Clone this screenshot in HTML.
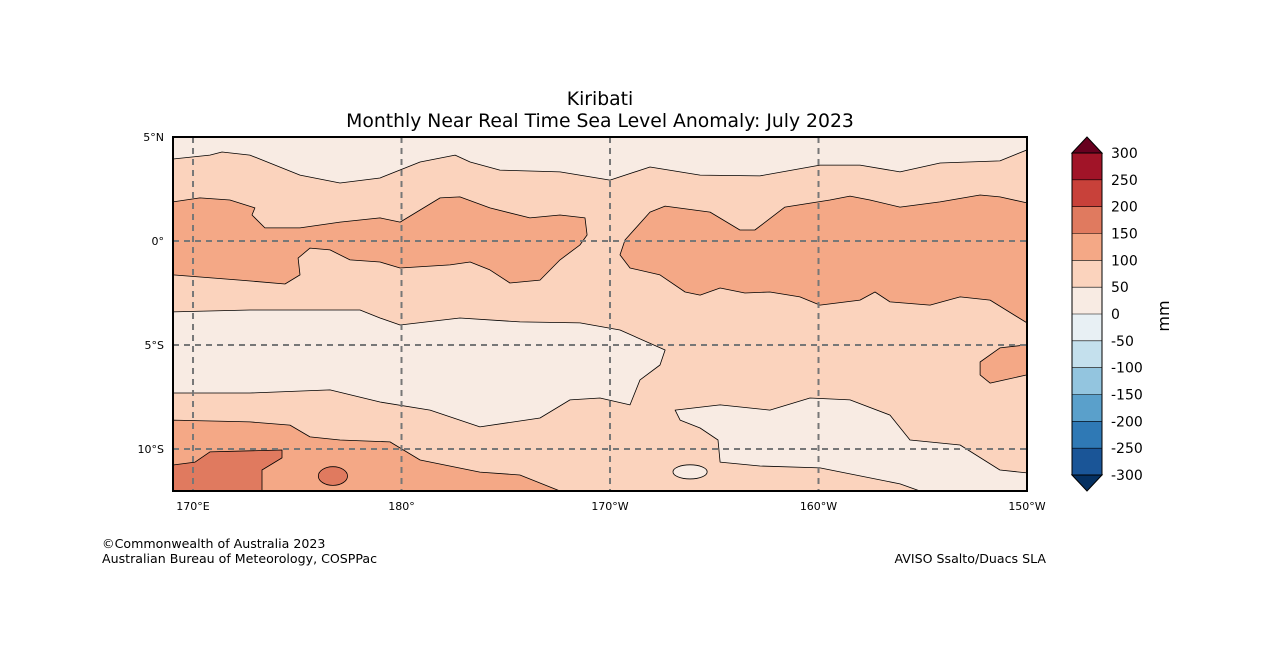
<!DOCTYPE html>
<html><head><meta charset="utf-8"><style>
html,body{margin:0;padding:0;background:#fff;}
svg{display:block;font-family:"DejaVu Sans","Liberation Sans",sans-serif;}
</style></head><body>
<svg id="chart" width="1262" height="667" viewBox="0 0 1262 667">
<text x="600" y="105" font-size="18.8" text-anchor="middle">Kiribati</text>
<text x="600" y="127" font-size="18.8" text-anchor="middle">Monthly Near Real Time Sea Level Anomaly: July 2023</text>
<g id="map"></g>
<g id="cbar"></g>
<text transform="translate(1169,316) rotate(-90)" font-size="16" text-anchor="middle">mm</text>
<text x="102" y="548" font-size="12.6">©Commonwealth of Australia 2023</text>
<text x="102" y="563" font-size="12.6">Australian Bureau of Meteorology, COSPPac</text>
<text x="1046" y="563" font-size="12.6" text-anchor="end">AVISO Ssalto/Duacs SLA</text>
</svg>
<script>
const levels=[-300,-250,-200,-150,-100,-50,0,50,100,150,200,250,300];
const levelColors=["#1a5597","#2f79b5","#5aa0cb","#93c5df","#c4e0ed","#e8f0f4","#f8ebe3","#fbd3bd","#f4a886","#e07a5f","#c8413a","#a11428"];
const lonTicks=[170,180,190,200,210];
const lonTickLabels=["170°E","180°","170°W","160°W","150°W"];
const latTicks=[5,0,-5,-10];
const latTickLabels=["5°N","0°","5°S","10°S"];
const baseLevel=50;
const contourLevels=[0,0,0,100,100,100,100,150];
const contourRegions=[
[[169.04,5],[169.04,3.94],[170.81,4.13],[171.39,4.28],[172.73,4.13],[175.13,3.17],[177.05,2.79],[178.97,3.03],[180.89,3.8],[182.57,4.13],[183.29,3.8],[184.72,3.41],[187.6,3.32],[190,2.93],[191.92,3.56],[194.32,3.17],[197.19,3.13],[200.07,3.65],[201.99,3.65],[203.91,3.32],[205.83,3.75],[208.7,3.85],[210,4.38],[210,5]],
[[169.04,-3.41],[172.73,-3.32],[178.01,-3.32],[178.97,-3.7],[179.93,-4.04],[182.8,-3.7],[185.68,-3.89],[188.56,-3.94],[190.48,-4.28],[192.64,-5.24],[192.4,-5.96],[191.44,-6.68],[190.96,-7.88],[189.52,-7.55],[188.08,-7.64],[186.64,-8.51],[183.76,-8.94],[181.37,-8.13],[178.97,-7.74],[176.57,-7.16],[172.73,-7.31],[169.04,-7.31]],
[[193.12,-8.13],[195.28,-7.88],[197.67,-8.13],[199.59,-7.55],[201.51,-7.64],[203.43,-8.37],[204.39,-9.57],[206.79,-9.81],[208.7,-11.01],[210,-11.15],[210,-12.02],[204.87,-12.02],[203.91,-11.68],[200.07,-10.91],[197.19,-10.82],[195.28,-10.63],[195.18,-9.57],[194.32,-8.99],[193.36,-8.61]],
[[169.04,1.88],[170.33,2.07],[171.77,1.97],[172.97,1.59],[172.83,1.25],[173.45,0.63],[175.13,0.63],[177.05,0.91],[178.97,1.11],[179.93,0.91],[180.89,1.49],[181.85,2.07],[182.8,2.12],[184.24,1.59],[186.16,1.11],[187.6,1.25],[188.8,1.11],[188.9,0.29],[188.56,-0.19],[187.6,-0.91],[186.64,-1.88],[185.2,-2.02],[184.24,-1.39],[183.29,-1.01],[182.33,-1.15],[179.93,-1.3],[178.97,-1.01],[177.53,-0.91],[176.57,-0.43],[175.61,-0.34],[175.04,-0.82],[175.13,-1.63],[174.41,-2.07],[172.25,-1.88],[169.04,-1.63]],
[[190.72,0.05],[191.92,1.39],[192.64,1.68],[194.8,1.39],[196.23,0.53],[196.95,0.53],[198.39,1.63],[200.55,1.97],[201.51,2.16],[202.47,1.97],[203.91,1.63],[205.83,1.88],[207.75,2.21],[208.7,2.12],[210,1.83],[210,-3.94],[208.23,-2.84],[206.79,-2.69],[205.35,-3.08],[203.43,-2.93],[202.71,-2.45],[201.99,-2.84],[200.07,-3.08],[199.11,-2.69],[197.67,-2.45],[196.47,-2.5],[195.28,-2.26],[194.32,-2.6],[193.6,-2.45],[192.4,-1.63],[190.96,-1.3],[190.48,-0.67]],
[[207.75,-5.82],[208.7,-5.14],[210,-4.99],[210,-6.44],[208.23,-6.83],[207.75,-6.44]],
[[169.04,-8.61],[172.73,-8.7],[174.65,-8.85],[175.61,-9.42],[177.05,-9.57],[179.45,-9.66],[180.89,-10.53],[183.76,-11.11],[185.68,-11.25],[187.6,-12.02],[169.04,-12.02]],
[[169.04,-10.77],[170.1,-10.63],[170.81,-10.14],[174.27,-10.05],[174.27,-10.43],[173.31,-11.01],[173.31,-12.02],[169.04,-12.02]]
];
const blobLevels=[0,150];
const blobCenters=[[193.84,-11.1],[176.71,-11.3]];
const blobSizes=[[0.82,0.34],[0.7,0.45]];

const NS="http://www.w3.org/2000/svg";
const X0=173,X1=1027,Y0=137,Y1=491,LON0=169.04,LON1=210,LAT0=5,LAT1=-12.02;
function xs(lon){return X0+(lon-LON0)/(LON1-LON0)*(X1-X0);}
function ys(lat){return Y0+(LAT0-lat)/(LAT0-LAT1)*(Y1-Y0);}
function colorFor(v){const i=levels.findIndex((l,k)=>v>=l&&v<levels[k+1]);return levelColors[i<0?levelColors.length-1:i];}
function mk(tag,attrs,parent){const e=document.createElementNS(NS,tag);for(const k in attrs)e.setAttribute(k,attrs[k]);parent.appendChild(e);return e;}
const map=document.getElementById('map');
const clip=mk('clipPath',{id:'mc'},map);mk('rect',{x:X0,y:Y0,width:X1-X0,height:Y1-Y0},clip);
const g=mk('g',{'clip-path':'url(#mc)'},map);
const bg=mk('rect',{x:X0,y:Y0,width:X1-X0,height:Y1-Y0,fill:colorFor(baseLevel)},g);


contourRegions.forEach((pts,i)=>{
 const p=mk('polygon',{points:pts.map(q=>xs(q[0]).toFixed(1)+','+ys(q[1]).toFixed(1)).join(' '),fill:colorFor(contourLevels[i]),stroke:'#000','stroke-width':0.8,'stroke-linejoin':'round'},g);
 
 
});
blobCenters.forEach((c,i)=>{
 const e=mk('ellipse',{cx:xs(c[0]),cy:ys(c[1]),rx:xs(c[0]+blobSizes[i][0])-xs(c[0]),ry:ys(c[1]-blobSizes[i][1])-ys(c[1]),fill:colorFor(blobLevels[i]),stroke:'#000','stroke-width':0.8},g);
 
 
});
lonTicks.forEach((lon,i)=>{
 const l=mk('line',{x1:xs(lon),x2:xs(lon),y1:Y0,y2:Y1,stroke:'#777','stroke-width':2,'stroke-dasharray':'6,5'},map);
 
 
 const t=mk('text',{x:xs(lon),y:Y1+19,'font-size':11,'text-anchor':'middle'},map);t.textContent=lonTickLabels[i];
 
 
});
latTicks.forEach((lat,i)=>{
 if(lat<LAT0){const l=mk('line',{x1:X0,x2:X1,y1:ys(lat),y2:ys(lat),stroke:'#777','stroke-width':2,'stroke-dasharray':'6,5'},map);
 
 }
 const t=mk('text',{x:X0-9,y:ys(lat)+4,'font-size':11,'text-anchor':'end'},map);t.textContent=latTickLabels[i];
 
 
});
const fr=mk('rect',{x:X0,y:Y0,width:X1-X0,height:Y1-Y0,fill:'none',stroke:'#000','stroke-width':2},map);


const cb=document.getElementById('cbar');
const CX=1072,CW=30,CT=153,CB=475,n=levelColors.length,sh=(CB-CT)/n;
levelColors.forEach((c,i)=>{
 const r=mk('rect',{x:CX,y:CB-(i+1)*sh,width:CW,height:sh,fill:c},cb);
 
 
});
const tt=mk('polygon',{points:`${CX},${CT} ${CX+CW/2},137 ${CX+CW},${CT}`,fill:'#67001f',stroke:'#000','stroke-width':1},cb);


const tb=mk('polygon',{points:`${CX},${CB} ${CX+CW/2},491 ${CX+CW},${CB}`,fill:'#053061',stroke:'#000','stroke-width':1},cb);


mk('rect',{x:CX,y:CT,width:CW,height:CB-CT,fill:'none',stroke:'#000','stroke-width':1},cb);
levels.forEach((v,i)=>{
 const y=CB-i*sh;
 mk('line',{x1:CX,x2:CX+CW,y1:y,y2:y,stroke:'#000','stroke-width':0.6},cb);
 const t=mk('text',{x:CX+39,y:y+5,'font-size':14},cb);t.textContent=v;
 
 
});
</script>
</body></html>
